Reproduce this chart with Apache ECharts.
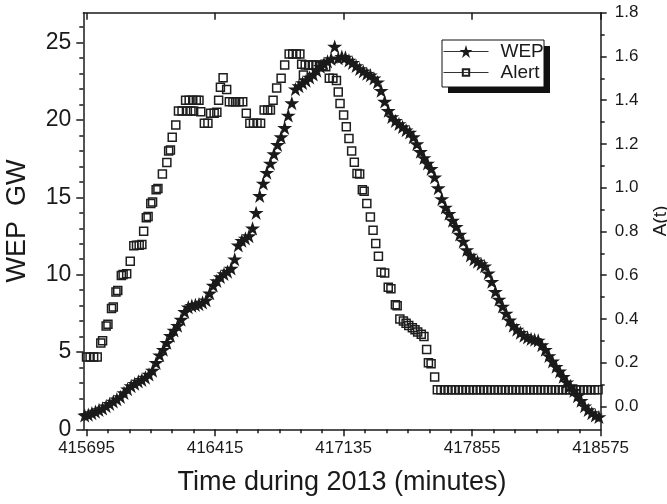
<!DOCTYPE html>
<html><head><meta charset="utf-8">
<script src="https://cdn.jsdelivr.net/npm/echarts@6/dist/echarts.min.js"></script>
<style>html,body{margin:0;padding:0;background:#fff}#c{width:667px;height:504px}</style>
</head><body><div id="c"></div>
<script>
// ---- axis ticks / labels ----
const xMin = 415677, xMax = 418575;
const xTickLabels = [415695, 416415, 417135, 417855, 418575];
const xMinorTicks = [415815,415935,416055,416175,416295,416535,416655,416775,416895,417015,
  417255,417375,417495,417615,417735,417975,418095,418215,418335,418455];
const leftMin = 0, leftMax = 26.94;
const leftTickLabels = [0, 5, 10, 15, 20, 25];
const leftMinorTicks = [1,2,3,4,6,7,8,9,11,12,13,14,16,17,18,19,21,22,23,24,26];
const rightMin = -0.1047, rightMax = 1.8;
const rightTickLabels = [0, 0.2, 0.4, 0.6, 0.8, 1.0, 1.2, 1.4, 1.6, 1.8];
const rightMinorTicks = [0.1, 0.3, 0.5, 0.7, 0.9, 1.1, 1.3, 1.5, 1.7];

// ---- WEP series (GW, left axis) ----
const wepTime = [
 415685,415705,415725,415745,415765,415785,415805,415825,415845,415865,
 415885,415905,415925,415945,415965,415985,416005,416025,416045,416065,
 416085,416105,416125,416145,416165,416185,416205,416225,416245,416265,
 416285,416305,416325,416345,416365,416385,416405,416425,416445,416465,
 416485,416505,416525,416545,416565,416585,416605,416625,416645,416665,
 416685,416705,416725,416745,416765,416785,416805,416825,416845,416865,
 416885,416905,416925,416945,416965,416985,417005,417025,417045,417065,
 417085,417105,417125,417145,417165,417185,417205,417225,417245,417265,
 417285,417305,417325,417345,417365,417385,417405,417425,417445,417465,
 417485,417505,417525,417545,417565,417585,417605,417625,417645,417665,
 417685,417705,417725,417745,417765,417785,417805,417825,417845,417865,
 417885,417905,417925,417945,417965,417985,418005,418025,418045,418065,
 418085,418105,418125,418145,418165,418185,418205,418225,418245,418265,
 418285,418305,418325,418345,418365,418385,418405,418425,418445,418465,
 418485,418505,418525,418545,418565];
const wepValue = [
 0.9,0.95,1.05,1.15,1.25,1.35,1.5,1.65,1.8,1.95,
 2.1,2.35,2.6,2.8,2.95,3.1,3.2,3.35,3.55,3.8,
 4.3,4.8,5.15,5.6,6.05,6.4,6.7,7.1,7.6,7.9,
 8.0,8.05,8.1,8.2,8.35,8.8,9.3,9.6,9.85,10.05,
 10.2,10.4,11.0,11.9,12.2,12.35,12.5,13.0,14.0,15.1,
 15.9,16.6,17.2,17.8,18.4,18.9,19.5,20.3,21.1,22.0,
 22.2,22.4,22.55,22.75,22.95,23.2,23.45,23.65,23.8,23.95,
 24.75,24.0,24.1,24.05,23.85,23.7,23.5,23.3,23.15,23.0,
 22.9,22.7,22.45,21.9,21.2,20.6,20.2,19.95,19.75,19.55,
 19.35,19.2,18.9,18.45,17.95,17.55,17.2,16.85,16.3,15.6,
 14.9,14.35,13.95,13.5,13.1,12.6,12.15,11.6,11.25,11.0,
 10.85,10.7,10.55,10.1,9.55,8.9,8.4,7.95,7.5,7.05,
 6.7,6.45,6.25,6.05,5.95,5.85,5.8,5.75,5.45,5.15,
 4.75,4.4,4.05,3.75,3.4,3.05,2.8,2.5,2.15,1.85,
 1.5,1.25,1.05,0.9,0.8];

// ---- Alert series (A(t), right axis) ----
const alertTime = [
 415695,415715,415735,415755,415775,415785,415805,415815,415835,415845,
 415860,415870,415890,415900,415920,415940,415960,415975,415990,416005,
 416015,416030,416040,416055,416065,416085,416095,416120,416145,416155,
 416165,416175,416195,416210,416230,416250,416260,416270,416280,416290,
 416295,416310,416325,416335,416355,416375,416390,416410,416425,416435,
 416445,416460,416480,416495,416515,416530,416550,416570,416590,416610,
 416630,416650,416670,416690,416710,416725,416740,416760,416785,416805,
 416830,416850,416870,416890,416900,416910,416920,416940,416960,416980,
 417000,417015,417035,417055,417075,417095,417105,417115,417135,417150,
 417165,417180,417195,417210,417225,417240,417250,417265,417285,417300,
 417315,417330,417345,417365,417385,417400,417425,417435,417450,417470,
 417485,417500,417520,417535,417550,417570,417585,417600,417610,417625,
 417645,
 417660,417680,417700,417720,417740,417760,417780,417800,417820,417840,
 417860,417880,417900,417920,417940,417960,417980,418000,418020,418040,
 418060,418080,418100,418120,418140,418160,418180,418200,418220,418240,
 418260,418280,418300,418320,418340,418360,418380,418400,418420,418440,
 418460,418480,418500,418520,418540,418560];
const alertValue = [
 0.226,0.226,0.226,0.226,0.29,0.30,0.368,0.376,0.448,0.455,
 0.523,0.53,0.598,0.603,0.607,0.664,0.735,0.737,0.737,0.74,
 0.801,0.862,0.868,0.928,0.934,0.99,0.996,1.062,1.115,1.168,
 1.172,1.23,1.286,1.351,1.351,1.40,1.351,1.40,1.351,1.40,
 1.351,1.40,1.40,1.347,1.294,1.294,1.34,1.34,1.345,1.40,
 1.459,1.503,1.449,1.393,1.393,1.393,1.393,1.393,1.34,1.294,
 1.294,1.294,1.294,1.355,1.355,1.355,1.40,1.456,1.50,1.561,
 1.611,1.611,1.611,1.611,1.564,1.515,1.561,1.561,1.561,1.561,
 1.561,1.558,1.553,1.50,1.50,1.49,1.438,1.385,1.332,1.278,
 1.225,1.168,1.116,1.065,1.062,0.99,0.984,0.928,0.866,0.805,
 0.745,0.686,0.613,0.61,0.545,0.538,0.465,0.46,0.40,0.39,
 0.38,0.37,0.36,0.35,0.34,0.33,0.32,0.26,0.20,0.195,
 0.134,
 0.076,0.076,0.076,0.076,0.076,0.076,0.076,0.076,0.076,0.076,
 0.076,0.076,0.076,0.076,0.076,0.076,0.076,0.076,0.076,0.076,
 0.076,0.076,0.076,0.076,0.076,0.076,0.076,0.076,0.076,0.076,
 0.076,0.076,0.076,0.076,0.076,0.076,0.076,0.076,0.076,0.076,
 0.076,0.076,0.076,0.076,0.076,0.076];

const FONT = 'Liberation Sans, Arial, Helvetica, sans-serif';
const INK = '#1a1a1a';
const STAR = 'path://M50,0 L61.2,34.5 L97.6,34.5 L68.2,55.9 L79.4,90.5 L50,69.1 L20.6,90.5 L31.8,55.9 L2.4,34.5 L38.8,34.5 Z';
const lineS = {color: INK, width: 1.5};

function minorAxis(base, pos, vals, len, inside) {
  return Object.assign({}, base, {
    position: pos, axisLine: {show: false}, axisLabel: {show: false},
    axisTick: {show: true, inside: inside, length: len, customValues: vals, lineStyle: lineS},
    splitLine: {show: false}, name: ''
  });
}
const xBase = {type: 'value', min: xMin, max: xMax, splitLine: {show: false}};
const lBase = {type: 'value', min: leftMin, max: leftMax, splitLine: {show: false}};
const rBase = {type: 'value', min: rightMin, max: rightMax, splitLine: {show: false}};

const legendCommon = {
  orient: 'vertical', left: 443, itemWidth: 45, padding: 0, selectedMode: false,
  textStyle: {fontSize: 19, color: INK, fontFamily: FONT, padding: [0, 0, 0, 7]},
  lineStyle: {color: '#333', width: 1, opacity: 1, type: 'solid'}
};

const chart = echarts.init(document.getElementById('c'), null, {renderer: 'canvas'});
chart.setOption({
  animation: false,
  backgroundColor: '#fff',
  grid: {left: 83.3, right: 66.3, top: 12.7, bottom: 74.7, containLabel: false, outerBoundsMode: 'none'},
  graphic: [
    {type: 'rect', z: 0, shape: {x: 448, y: 46, width: 102, height: 47}, style: {fill: '#111'}, silent: true},
    {type: 'rect', z: 0, shape: {x: 442, y: 40, width: 102, height: 47}, style: {fill: '#fff', stroke: '#111', lineWidth: 1}, silent: true}
  ],
  legend: [
    Object.assign({}, legendCommon, {data: ['WEP'], top: 42, itemHeight: 16, z: 10}),
    Object.assign({}, legendCommon, {data: ['Alert'], top: 63, itemHeight: 8, z: 10})
  ],
  xAxis: [
    Object.assign({}, xBase, {
      position: 'bottom',
      axisLine: {show: true, onZero: false, lineStyle: lineS},
      axisTick: {show: true, inside: false, length: 7, customValues: xTickLabels, lineStyle: lineS},
      axisLabel: {customValues: xTickLabels, fontSize: 17, color: INK, fontFamily: FONT, margin: 11,
                  showMinLabel: true, showMaxLabel: true, formatter: v => String(v)},
      name: 'Time during 2013 (minutes)', nameLocation: 'middle', nameGap: 40,
      nameTextStyle: {fontSize: 27, color: INK, fontFamily: FONT}
    }),
    minorAxis(xBase, 'bottom', xMinorTicks, 4, false),
    Object.assign({}, xBase, {
      position: 'top',
      axisLine: {show: true, onZero: false, lineStyle: lineS},
      axisTick: {show: true, inside: true, length: 7, customValues: xTickLabels, lineStyle: lineS},
      axisLabel: {show: false}
    }),
    minorAxis(xBase, 'top', xMinorTicks, 4, true)
  ],
  yAxis: [
    Object.assign({}, lBase, {
      position: 'left',
      axisLine: {show: true, onZero: false, lineStyle: lineS},
      axisTick: {show: true, inside: false, length: 7, customValues: leftTickLabels, lineStyle: lineS},
      axisLabel: {customValues: leftTickLabels, fontSize: 23, color: INK, fontFamily: FONT, margin: 12},
      name: 'WEP  GW', nameLocation: 'middle', nameGap: 52, nameRotate: 90,
      nameTextStyle: {fontSize: 27, color: INK, fontFamily: FONT}
    }),
    minorAxis(lBase, 'left', leftMinorTicks, 4, false),
    Object.assign({}, rBase, {
      position: 'right',
      axisLine: {show: true, onZero: false, lineStyle: lineS},
      axisTick: {show: true, inside: false, length: 6, customValues: rightTickLabels, lineStyle: lineS},
      axisLabel: {customValues: rightTickLabels, fontSize: 17, color: INK, fontFamily: FONT, margin: 14,
                  formatter: v => v.toFixed(1)},
      name: 'A(t)', nameLocation: 'middle', nameGap: 51, nameRotate: 90,
      nameTextStyle: {fontSize: 19, color: INK, fontFamily: FONT}
    }),
    minorAxis(rBase, 'right', rightMinorTicks, 4, false)
  ],
  series: [
    {
      name: 'Alert', type: 'line', xAxisIndex: 0, yAxisIndex: 2,
      data: alertTime.map((t, i) => [t, alertValue[i]]),
      symbol: 'rect', symbolSize: 8, showAllSymbol: true, showSymbol: true,
      lineStyle: {opacity: 0, width: 0},
      itemStyle: {color: 'rgba(255,255,255,0)', borderColor: '#1e1e1e', borderWidth: 1.5},
      emphasis: {disabled: true}, z: 2
    },
    {
      name: 'WEP', type: 'line', xAxisIndex: 0, yAxisIndex: 0,
      data: wepTime.map((t, i) => [t, wepValue[i]]),
      symbol: STAR, symbolSize: 15, symbolKeepAspect: true, showAllSymbol: true, showSymbol: true,
      lineStyle: {opacity: 0, width: 0},
      itemStyle: {color: INK},
      emphasis: {disabled: true}, z: 3
    }
  ]
});
</script></body></html>
